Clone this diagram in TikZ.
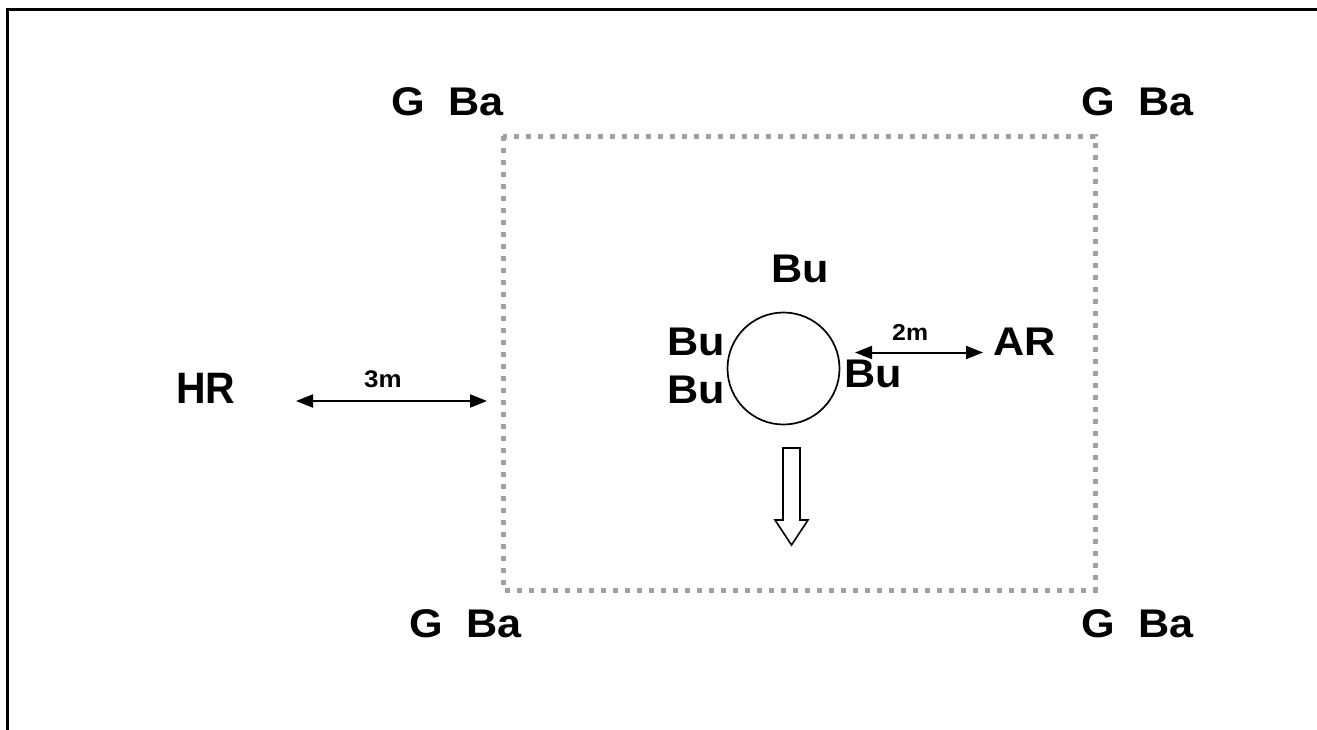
\documentclass[tikz,border=0pt]{standalone}
\usepackage{fontspec}
\setmainfont{Liberation Sans}[FakeStretch=1.08]
\newfontfamily\hrfont{Liberation Sans}[FakeStretch=0.93]
\usetikzlibrary{arrows.meta}
\definecolor{dotgray}{HTML}{A0A0A0}
\begin{document}
\begin{tikzpicture}[x=1pt,y=-1pt,
  lbl/.style={font=\bfseries\fontsize{40}{42}\selectfont, inner sep=0pt, anchor=base west},
  biglbl/.style={font=\hrfont\bfseries\fontsize{44}{46}\selectfont, inner sep=0pt, anchor=base west},
  smalllbl/.style={font=\bfseries\fontsize{24}{26}\selectfont, inner sep=0pt, anchor=base west},
  dimarrow/.style={line width=2pt, {Triangle[length=17pt,width=13pt]}-{Triangle[length=17pt,width=13pt]}},
  dotbox/.style={draw=dotgray, line width=5pt, dash pattern=on 5.3pt off 6.7pt},
  frame/.style={line width=3pt}]
\useasboundingbox (0,0) rectangle (1317,729);
% outer frame (only top and left edges are visible)
\draw[frame] (7.5,740) -- (7.5,9) -- (1330,9);
% dotted boundary
\draw[dotbox] (503,136) rectangle (1095,590);
% corner labels
\node[lbl] (gbtl) at (391,115) {G\ \ Ba};
\node[lbl] (gbtr) at (1081,115) {G\ \ Ba};
\node[lbl] (gbbl) at (409,637) {G\ \ Ba};
\node[lbl] (gbbr) at (1081,637) {G\ \ Ba};
% central circle
\node[circle, draw, line width=1.7pt, minimum size=112pt, inner sep=0pt] (c) at (783.5,368.5) {};
\node[lbl] (butop) at (771,282) {Bu};
\node[lbl] (bul1) at (667,355) {Bu};
\node[lbl] (bul2) at (667,403) {Bu};
\node[lbl] (bur) at (844,387) {Bu};
\node[lbl] (ar) at (993,355) {AR};
\node[biglbl] (hr) at (176,403) {HR};
% dimension arrows
\coordinate (d3a) at (296,401);
\coordinate (d3b) at (487,401);
\draw[dimarrow] (d3a) -- (d3b);
\node[smalllbl] (m3) at (364,387) {3m};
\coordinate (d2a) at (855,352.5);
\coordinate (d2b) at (983,352.5);
\draw[dimarrow] (d2a) -- (d2b);
\node[smalllbl, font=\bfseries\fontsize{23}{25}\selectfont] (m2) at (892,340) {2m};
% block arrow
\draw[line width=1.6pt, line join=miter] (783,448) -- (800,448) -- (800,520) -- (808,520) -- (791.5,545) -- (775,520) -- (783,520) -- cycle;
\end{tikzpicture}
\end{document}
